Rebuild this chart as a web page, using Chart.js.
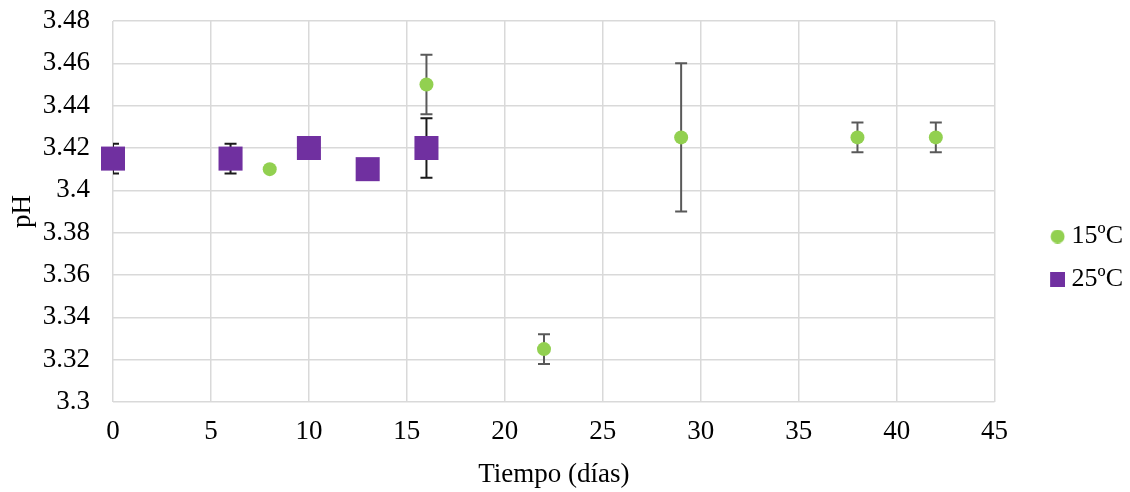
<!DOCTYPE html>
<html>
<head>
<meta charset="utf-8">
<script src="https://cdn.jsdelivr.net/npm/chart.js@4.4.1/dist/chart.umd.min.js"></script>
<style>
  body { margin: 0; background: #fff; }
</style>
</head>
<body>
<canvas id="phChart" width="1130" height="492"></canvas>
<script>
// 15ºC
const days15 = [8, 16, 22, 29, 38, 42];
const ph15 = [3.41, 3.45, 3.325, 3.425, 3.425, 3.425];
const err15 = [0, 0.014, 0.007, 0.035, 0.007, 0.007];
// 25ºC
const days25 = [0, 6, 10, 13, 16];
const ph25 = [3.415, 3.415, 3.42, 3.41, 3.42];
const err25 = [0.007, 0.007, 0, 0, 0.014];

const xTicks = [0, 5, 10, 15, 20, 25, 30, 35, 40, 45];
const yTicks = [3.3, 3.32, 3.34, 3.36, 3.38, 3.4, 3.42, 3.44, 3.46, 3.48];

const serif = "'Liberation Serif', 'Times New Roman', serif";

function toPoints(xs, ys, es) {
  return xs.map((x, i) => ({ x: x, y: ys[i], err: es[i] }));
}

// legend marker images: wide canvas, marker sits at its right end
function legendMarker(kind, color, size) {
  const w = 60, h = size;
  const c = document.createElement('canvas');
  c.width = w; c.height = h;
  const g = c.getContext('2d');
  g.fillStyle = color;
  const cx = 52.5;
  if (kind === 'circle') {
    g.beginPath();
    g.arc(cx, h / 2, size / 2, 0, Math.PI * 2);
    g.fill();
  } else {
    g.fillRect(cx - size / 2, 0, size, size);
  }
  return c;
}
const markers = [
  legendMarker('circle', '#92D050', 14),
  legendMarker('rect', '#7030A0', 15)
];

// error bars, drawn under the markers and clipped to the plot
const errorBars = {
  id: 'errorBars',
  beforeDatasetsDraw(chart) {
    const { ctx, chartArea, scales } = chart;
    ctx.save();
    ctx.beginPath();
    ctx.rect(chartArea.left, chartArea.top, chartArea.right - chartArea.left, chartArea.bottom - chartArea.top);
    ctx.clip();
    chart.data.datasets.forEach((ds) => {
      ctx.strokeStyle = ds.errorColor;
      ctx.lineWidth = 2;
      ds.data.forEach((p) => {
        if (!p.err) return;
        const x = scales.x.getPixelForValue(p.x);
        const yTop = scales.y.getPixelForValue(p.y + p.err);
        const yBot = scales.y.getPixelForValue(p.y - p.err);
        ctx.beginPath();
        ctx.moveTo(x, yTop); ctx.lineTo(x, yBot);
        ctx.moveTo(x - 6, yTop); ctx.lineTo(x + 6, yTop);
        ctx.moveTo(x - 6, yBot); ctx.lineTo(x + 6, yBot);
        ctx.stroke();
      });
    });
    ctx.restore();
  }
};

const ctx = document.getElementById('phChart').getContext('2d');
new Chart(ctx, {
  type: 'scatter',
  data: {
    datasets: [{
      label: '15ºC',
      data: toPoints(days15, ph15, err15),
      pointStyle: 'circle',
      pointRadius: 7,
      pointHoverRadius: 7,
      backgroundColor: '#92D050',
      borderColor: '#92D050',
      borderWidth: 0,
      clip: false,
      errorColor: '#595959'
    }, {
      label: '25ºC',
      data: toPoints(days25, ph25, err25),
      pointStyle: 'rect',
      pointRadius: 17,
      pointHoverRadius: 17,
      backgroundColor: '#7030A0',
      borderColor: '#7030A0',
      borderWidth: 0,
      clip: false,
      errorColor: '#1a1a1a'
    }]
  },
  options: {
    responsive: false,
    animation: false,
    layout: { padding: { left: 0, right: -3, top: 16, bottom: -8 } },
    plugins: {
      tooltip: { enabled: false },
      legend: {
        position: 'right',
        labels: {
          font: { family: serif, size: 26 },
          color: '#000',
          usePointStyle: true,
          pointStyleWidth: 47,
          boxHeight: 15,
          padding: 17,
          generateLabels: (chart) => {
            const items = Chart.defaults.plugins.legend.labels.generateLabels(chart);
            items.forEach((it, i) => { it.pointStyle = markers[i]; });
            return items;
          }
        }
      }
    },
    scales: {
      x: {
        type: 'linear',
        min: 0,
        max: 45,
        afterBuildTicks: (axis) => { axis.ticks = xTicks.map(v => ({ value: v })); },
        afterFit: (axis) => { axis.height = 98; axis.paddingRight = 135; },
        ticks: {
          font: { family: serif, size: 27 },
          color: '#000',
          padding: 14,
          maxRotation: 0
        },
        grid: { color: '#D9D9D9', lineWidth: 1.5, drawTicks: false },
        border: { display: false },
        title: {
          display: true,
          text: 'Tiempo (días)',
          font: { family: serif, size: 27 },
          color: '#000',
          padding: { top: 0, bottom: 9 }
        }
      },
      y: {
        min: 3.3,
        max: 3.48,
        afterBuildTicks: (axis) => { axis.ticks = yTicks.map(v => ({ value: v })); },
        afterFit: (axis) => { axis.width = 113; axis.paddingTop = 21; axis.paddingBottom = 10; },
        ticks: {
          font: { family: serif, size: 27 },
          color: '#000',
          padding: 23,
          callback: (v) => String(Number(v.toFixed(2)))
        },
        grid: { color: '#D9D9D9', lineWidth: 1.5, drawTicks: false },
        border: { display: false },
        title: {
          display: true,
          text: 'pH',
          font: { family: serif, size: 27 },
          color: '#000',
          padding: { top: 7, bottom: 0 }
        }
      }
    }
  },
  plugins: [errorBars]
});
</script>
</body>
</html>
